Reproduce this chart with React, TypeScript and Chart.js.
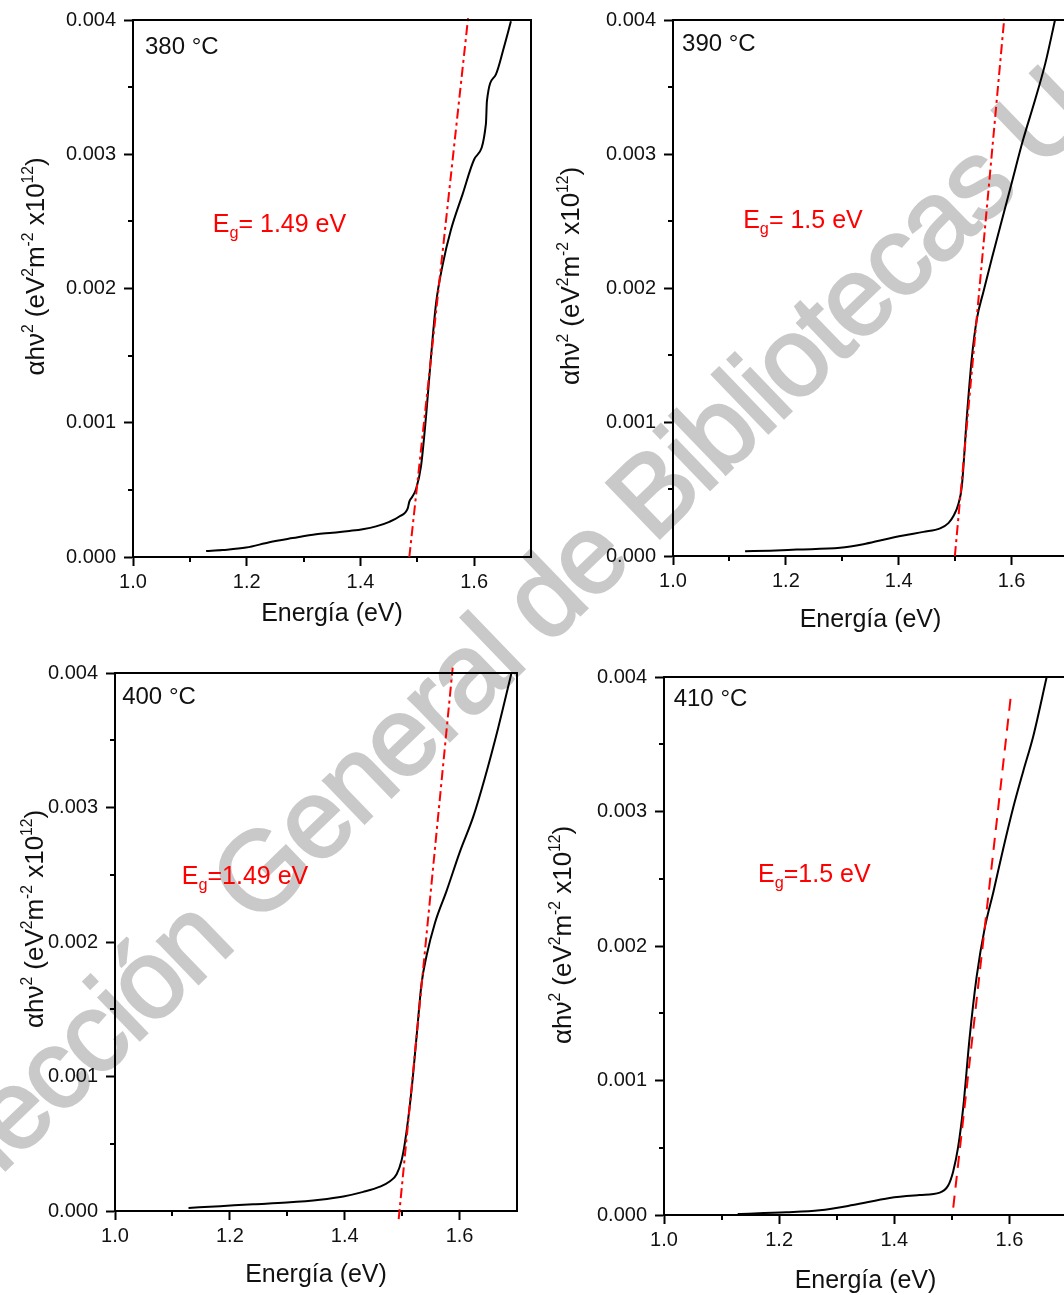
import React, { useEffect, useRef } from "react";
import { Chart, registerables } from "chart.js";

Chart.register(...registerables);

const FONT = "'Liberation Sans', Arial, Helvetica, sans-serif";

// ---------------- data ----------------
// 380 °C
const energy380 = [1.1286, 1.1578, 1.199, 1.2399, 1.2808, 1.322, 1.3511, 1.3805, 1.4039, 1.4274, 1.4508, 1.4684, 1.483, 1.486, 1.4917, 1.4977, 1.5065, 1.5153, 1.5241, 1.5329, 1.5445, 1.5592, 1.5796, 1.6002, 1.6207, 1.6225, 1.6383, 1.6529, 1.6647];
const alpha380 = [0.000044, 0.000052, 0.00007, 0.00011, 0.000141, 0.00017, 0.00018, 0.000194, 0.000207, 0.000228, 0.000262, 0.000302, 0.00036, 0.000412, 0.000452, 0.000505, 0.000675, 0.001044, 0.00149, 0.001885, 0.002174, 0.002437, 0.002701, 0.002963, 0.003226, 0.003397, 0.003595, 0.003805, 0.00399];
const fitEnergy380 = [1.486, 1.59];
const fitAlpha380 = [0, 0.00404];

// 390 °C
const energy390 = [1.1277, 1.172, 1.2193, 1.2961, 1.3374, 1.3729, 1.4083, 1.4438, 1.4734, 1.4881, 1.497, 1.5059, 1.5119, 1.5207, 1.5296, 1.5385, 1.55, 1.565, 1.58, 1.6, 1.62, 1.64, 1.66, 1.677];
const alpha390 = [0.000035, 0.00004, 0.000048, 0.000061, 0.000088, 0.000122, 0.000153, 0.00018, 0.000206, 0.000245, 0.000298, 0.00039, 0.000522, 0.001036, 0.00148, 0.00177, 0.00197, 0.00222, 0.00246, 0.00278, 0.0031, 0.00338, 0.00368, 0.004];
const fitEnergy390 = [1.4995, 1.587];
const fitAlpha390 = [0, 0.00401];

// 400 °C
const energy400 = [1.128, 1.1831, 1.241, 1.2991, 1.357, 1.3976, 1.4323, 1.4614, 1.4788, 1.4904, 1.4991, 1.5049, 1.5165, 1.5252, 1.5339, 1.5426, 1.557, 1.5774, 1.6005, 1.6237, 1.644, 1.6671, 1.6904];
const alpha400 = [0.000023, 0.000036, 0.00005, 0.000063, 0.000084, 0.000108, 0.000142, 0.000181, 0.000221, 0.000273, 0.000378, 0.00051, 0.000905, 0.0013, 0.001694, 0.0019, 0.00214, 0.00238, 0.00267, 0.00293, 0.00322, 0.00359, 0.004];
const fitEnergy400 = [1.494, 1.588];
const fitAlpha400 = [-0.00006, 0.00404];

// 410 °C
const energy410 = [1.128, 1.2125, 1.2704, 1.328, 1.392, 1.4443, 1.479, 1.4936, 1.5023, 1.511, 1.5197, 1.531, 1.543, 1.5574, 1.572, 1.589, 1.6066, 1.624, 1.6414, 1.6647];
const alpha410 = [0.000008, 0.00002, 0.000035, 0.000074, 0.000127, 0.000148, 0.000166, 0.000219, 0.000324, 0.000508, 0.000798, 0.001324, 0.00177, 0.00214, 0.0024, 0.00272, 0.00303, 0.0033, 0.00356, 0.004];
const fitEnergy410 = [1.5024, 1.603];
const fitAlpha410 = [0.000055, 0.00388];

// axes
const xMin = 1.0;
const xMax = 1.7;
const xStep = 0.2;
const xMinorTicks = [1.1, 1.3, 1.5];
const yMin = 0;
const yMax = 0.004;
const yStep = 0.001;
const yMinorTicks = [0.0005, 0.0015, 0.0025, 0.0035];

// texts
const xTitle = "Energía (eV)";
const tempLabels = ["380 °C", "390 °C", "400 °C", "410 °C"];
const gapLabels = ["= 1.49 eV", "= 1.5 eV", "=1.49 eV", "=1.5 eV"];
const watermarkText = "Colección General de Bibliotecas U";

// ---------------- layout / style ----------------
type Seg = { t: string; k: number; dy: number };
const yTitleSegs: Seg[] = [
  { t: "αhν", k: 1, dy: 0 },
  { t: "2", k: 0.6, dy: -0.42 },
  { t: " (eV", k: 1, dy: 0 },
  { t: "2", k: 0.6, dy: -0.42 },
  { t: "m", k: 1, dy: 0 },
  { t: "-2", k: 0.6, dy: -0.42 },
  { t: " x10", k: 1, dy: 0 },
  { t: "12", k: 0.6, dy: -0.42 },
  { t: ")", k: 1, dy: 0 },
];

type PanelCfg = {
  energy: number[];
  alpha: number[];
  fitEnergy: number[];
  fitAlpha: number[];
  dash: number[];
  temp: string;
  gap: string;
  tempAt: [number, number];
  gapAt: [number, number];
  left: number;
  top: number;
  w: number;
  h: number;
  pt: number;
  pr: number;
  yW: number;
  xH: number;
  titleDx: number;
  titleDy: number;
};

const dashDot = [10, 4, 3, 4];
const dashed = [12, 8];

const panels: PanelCfg[] = [
  {
    energy: energy380, alpha: alpha380, fitEnergy: fitEnergy380, fitAlpha: fitAlpha380, dash: dashDot,
    temp: tempLabels[0], gap: gapLabels[0], tempAt: [1.0211, 0.003747], gapAt: [1.1402, 0.002419],
    left: 0, top: 0, w: 541, h: 629, pt: 19, pr: 10, yW: 133, xH: 72, titleDx: -98, titleDy: -22,
  },
  {
    energy: energy390, alpha: alpha390, fitEnergy: fitEnergy390, fitAlpha: fitAlpha390, dash: dashDot,
    temp: tempLabels[1], gap: gapLabels[1], tempAt: [1.016, 0.00377], gapAt: [1.1244, 0.00245],
    left: 540, top: 0, w: 538, h: 635, pt: 18, pr: 10, yW: 133, xH: 79, titleDx: -103, titleDy: -12,
  },
  {
    energy: energy400, alpha: alpha400, fitEnergy: fitEnergy400, fitAlpha: fitAlpha400, dash: dashDot,
    temp: tempLabels[2], gap: gapLabels[2], tempAt: [1.0125, 0.003767], gapAt: [1.1163, 0.002434],
    left: 0, top: 650, w: 527, h: 640, pt: 23, pr: 10, yW: 115, xH: 79, titleDx: -81.5, titleDy: -23,
  },
  {
    energy: energy410, alpha: alpha410, fitEnergy: fitEnergy410, fitAlpha: fitAlpha410, dash: dashed,
    temp: tempLabels[3], gap: gapLabels[3], tempAt: [1.0168, 0.003788], gapAt: [1.1633, 0.002473],
    left: 540, top: 650, w: 537, h: 646, pt: 27, pr: 10, yW: 124, xH: 81, titleDx: -102, titleDy: -11,
  },
];

function drawRich(
  ctx: CanvasRenderingContext2D,
  segs: Seg[],
  size: number,
  x: number,
  y: number,
  rotated: boolean,
  center: boolean,
  color: string
) {
  ctx.save();
  ctx.translate(x, y);
  if (rotated) ctx.rotate(-Math.PI / 2);
  ctx.textBaseline = "alphabetic";
  ctx.textAlign = "left";
  ctx.fillStyle = color;
  let total = 0;
  const widths: number[] = [];
  for (const s of segs) {
    ctx.font = `${size * s.k}px ${FONT}`;
    const w = ctx.measureText(s.t).width;
    widths.push(w);
    total += w;
  }
  let cx = center ? -total / 2 : 0;
  const base = center ? 0.36 * size : 0;
  segs.forEach((s, i) => {
    ctx.font = `${size * s.k}px ${FONT}`;
    ctx.fillText(s.t, cx, base + s.dy * size);
    cx += widths[i];
  });
  ctx.restore();
}

function Panel({ cfg }: { cfg: PanelCfg }) {
  const ref = useRef<HTMLCanvasElement>(null);
  useEffect(() => {
    const canvas = ref.current;
    if (!canvas) return;
    const decor = {
      id: "decor",
      afterDraw(chart: any) {
        const { ctx, chartArea: a, scales } = chart;
        const xs = scales.x;
        const ys = scales.y;
        ctx.save();
        ctx.strokeStyle = "#000";
        ctx.lineWidth = 2;
        ctx.beginPath();
        for (const v of xMinorTicks) {
          const px = Math.round(xs.getPixelForValue(v));
          ctx.moveTo(px, a.bottom);
          ctx.lineTo(px, a.bottom + 5);
        }
        for (const v of yMinorTicks) {
          const py = Math.round(ys.getPixelForValue(v));
          ctx.moveTo(a.left, py);
          ctx.lineTo(a.left - 5, py);
        }
        ctx.stroke();
        ctx.beginPath();
        ctx.moveTo(a.left - 1, Math.round(a.top));
        ctx.lineTo(Math.round(a.right), Math.round(a.top));
        ctx.lineTo(Math.round(a.right), a.bottom + 1);
        ctx.stroke();
        ctx.restore();

        // temperature label
        ctx.save();
        ctx.fillStyle = "#111";
        ctx.font = `24px ${FONT}`;
        ctx.textBaseline = "alphabetic";
        ctx.textAlign = "left";
        ctx.fillText(cfg.temp, xs.getPixelForValue(cfg.tempAt[0]), ys.getPixelForValue(cfg.tempAt[1]));
        ctx.restore();

        // band gap label
        drawRich(
          ctx,
          [
            { t: "E", k: 1, dy: 0 },
            { t: "g", k: 0.65, dy: 0.24 },
            { t: cfg.gap, k: 1, dy: 0 },
          ],
          25,
          xs.getPixelForValue(cfg.gapAt[0]),
          ys.getPixelForValue(cfg.gapAt[1]),
          false,
          false,
          "#ff0000"
        );

        // y axis title
        drawRich(
          ctx,
          yTitleSegs,
          26,
          a.left + cfg.titleDx,
          (a.top + a.bottom) / 2 + cfg.titleDy,
          true,
          true,
          "#111"
        );
      },
    };

    const chart = new Chart(canvas, {
      type: "scatter",
      data: {
        datasets: [
          {
            data: cfg.fitEnergy.map((e, i) => ({ x: e, y: cfg.fitAlpha[i] })),
            showLine: true,
            borderColor: "#ff0000",
            borderWidth: 2,
            borderDash: cfg.dash,
            pointRadius: 0,
            tension: 0,
            clip: false,
          } as any,
          {
            data: cfg.energy.map((e, i) => ({ x: e, y: cfg.alpha[i] })),
            showLine: true,
            borderColor: "#000",
            borderWidth: 2,
            pointRadius: 0,
            cubicInterpolationMode: "monotone",
          } as any,
        ],
      },
      options: {
        responsive: false,
        animation: false,
        devicePixelRatio: 1,
        events: [],
        layout: { padding: { left: 0, top: cfg.pt, right: cfg.pr, bottom: 0 } },
        plugins: { legend: { display: false }, tooltip: { enabled: false }, title: { display: false } },
        scales: {
          x: {
            type: "linear",
            min: xMin,
            max: xMax,
            afterFit: (s: any) => {
              s.height = cfg.xH;
            },
            border: { display: true, color: "#000", width: 2 },
            grid: {
              display: true,
              drawOnChartArea: false,
              drawTicks: true,
              tickLength: 9,
              tickWidth: 2,
              tickColor: "#000",
            },
            ticks: {
              stepSize: xStep,
              includeBounds: false,
              autoSkip: false,
              maxRotation: 0,
              padding: 4,
              color: "#111",
              font: { family: FONT, size: 20 },
              callback: (v: any) => Number(v).toFixed(1),
            },
            title: {
              display: true,
              text: xTitle,
              color: "#111",
              font: { family: FONT, size: 25 },
              padding: { top: 0, bottom: 0 },
            },
          },
          y: {
            type: "linear",
            min: yMin,
            max: yMax,
            afterFit: (s: any) => {
              s.width = cfg.yW;
            },
            border: { display: true, color: "#000", width: 2 },
            grid: {
              display: true,
              drawOnChartArea: false,
              drawTicks: true,
              tickLength: 9,
              tickWidth: 2,
              tickColor: "#000",
            },
            ticks: {
              stepSize: yStep,
              autoSkip: false,
              padding: 8,
              color: "#111",
              font: { family: FONT, size: 20 },
              callback: (v: any) => Number(v).toFixed(3),
            },
            title: { display: false },
          },
        },
      } as any,
      plugins: [decor],
    });
    return () => chart.destroy();
  }, [cfg]);

  return (
    <canvas
      ref={ref}
      width={cfg.w}
      height={cfg.h}
      style={{ position: "absolute", left: cfg.left, top: cfg.top, width: cfg.w, height: cfg.h, zIndex: 1 }}
    />
  );
}

export default function App() {
  return (
    <div
      style={{
        position: "absolute",
        left: 0,
        top: 0,
        width: 1064,
        height: 1295,
        overflow: "hidden",
        background: "#fff",
      }}
    >
      <div
        style={{
          position: "absolute",
          left: -164,
          top: 1203,
          transformOrigin: "0 0",
          transform: "rotate(-44deg)",
          fontFamily: FONT,
          fontSize: 112,
          lineHeight: 1,
          letterSpacing: "-3px",
          color: "#c9c9c9",
          WebkitTextStroke: "2.5px #c9c9c9",
          whiteSpace: "nowrap",
          zIndex: 0,
        }}
      >
        {watermarkText}
      </div>
      {panels.map((p, i) => (
        <Panel key={i} cfg={p} />
      ))}
    </div>
  );
}
